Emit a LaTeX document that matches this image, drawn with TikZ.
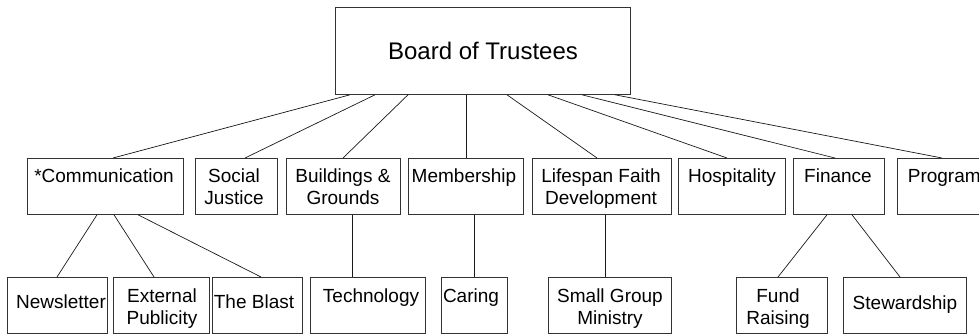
\documentclass[tikz,border=0pt]{standalone}
\usepackage{fontspec}
\setmainfont{Liberation Sans}
\begin{document}
\begin{tikzpicture}[x=1pt,y=-1pt,
  box/.style={draw=black!80, line width=0.8pt, inner sep=0pt, anchor=north west},
  lbl/.style={anchor=base, align=center, inner sep=0pt, font=\fontsize{19}{22}\selectfont},
  conn/.style={line width=0.7pt, draw=black!90}]
\useasboundingbox (0,0) rectangle (979,335);
% boxes
\node[box, minimum width=295pt, minimum height=87pt] (board) at (335,7) {};
\node[box, minimum width=156pt, minimum height=56pt] (comm) at (27,158) {};
\node[box, minimum width=82pt, minimum height=56pt] (soc) at (195,158) {};
\node[box, minimum width=114pt, minimum height=56pt] (build) at (286,158) {};
\node[box, minimum width=115pt, minimum height=56pt] (memb) at (408,158) {};
\node[box, minimum width=139pt, minimum height=56pt] (life) at (532,158) {};
\node[box, minimum width=107pt, minimum height=56pt] (hosp) at (678,158) {};
\node[box, minimum width=91pt, minimum height=56pt] (fin) at (793,158) {};
\node[box, minimum width=104pt, minimum height=56pt] (prog) at (897,158) {};
\node[box, minimum width=100pt, minimum height=56pt] (news) at (7,277) {};
\node[box, minimum width=96pt, minimum height=56pt] (ext) at (113,277) {};
\node[box, minimum width=90pt, minimum height=56pt] (blast) at (212,277) {};
\node[box, minimum width=115pt, minimum height=56pt] (tech) at (310,277) {};
\node[box, minimum width=66pt, minimum height=56pt] (caring) at (441,277) {};
\node[box, minimum width=123pt, minimum height=56pt] (small) at (548,277) {};
\node[box, minimum width=91pt, minimum height=56pt] (fund) at (736,277) {};
\node[box, minimum width=123pt, minimum height=56pt] (stew) at (843,277) {};
% texts (base anchor = baseline of last line)
\node[lbl, font=\fontsize{24}{28}\selectfont] (tboard) at (483,59) {Board of Trustees};
\node[lbl] (tcomm) at (104,182) {*Communication};
\node[lbl] (tsoc) at (234,204) {Social\\Justice};
\node[lbl] (tbuild) at (343,204) {Buildings \&\\Grounds};
\node[lbl] (tmemb) at (464,182) {Membership};
\node[lbl] (tlife) at (601,204) {Lifespan Faith\\Development};
\node[lbl] (thosp) at (732,182) {Hospitality};
\node[lbl] (tfin) at (838,182) {Finance};
\node[lbl] (tprog) at (949,182) {Program\hphantom{s}};
\node[lbl] (tnews) at (61,308) {Newsletter};
\node[lbl] (text) at (162,324) {External\\Publicity};
\node[lbl] (tblast) at (254,308) {The Blast};
\node[lbl] (ttech) at (371,302) {Technology};
\node[lbl] (tcaring) at (471,302) {Caring};
\node[lbl] (tsmall) at (610,324) {Small Group\\Ministry};
\node[lbl] (tfund) at (778,324) {Fund\\Raising};
\node[lbl] (tstew) at (905,309) {Stewardship};
% connectors board -> committees
\draw[conn] ([xshift=15pt]board.south west) -- ([xshift=86pt]comm.north west);
\draw[conn] ([xshift=40pt]board.south west) -- ([xshift=50pt]soc.north west);
\draw[conn] ([xshift=73pt]board.south west) -- ([xshift=57pt]build.north west);
\draw[conn] ([xshift=131pt]board.south west) -- ([xshift=58pt]memb.north west);
\draw[conn] ([xshift=172pt]board.south west) -- ([xshift=65pt]life.north west);
\draw[conn] ([xshift=213pt]board.south west) -- ([xshift=49pt]hosp.north west);
\draw[conn] ([xshift=247pt]board.south west) -- ([xshift=42pt]fin.north west);
\draw[conn] ([xshift=280pt]board.south west) -- ([xshift=45pt]prog.north west);
% committees -> sub-groups
\draw[conn] ([xshift=70pt]comm.south west) -- ([xshift=50pt]news.north west);
\draw[conn] ([xshift=87pt]comm.south west) -- ([xshift=41pt]ext.north west);
\draw[conn] ([xshift=111pt]comm.south west) -- ([xshift=49pt]blast.north west);
\draw[conn] ([xshift=66pt]build.south west) -- ([xshift=42pt]tech.north west);
\draw[conn] ([xshift=66pt]memb.south west) -- ([xshift=33pt]caring.north west);
\draw[conn] ([xshift=73pt]life.south west) -- ([xshift=57pt]small.north west);
\draw[conn] ([xshift=34pt]fin.south west) -- ([xshift=42pt]fund.north west);
\draw[conn] ([xshift=59pt]fin.south west) -- ([xshift=57pt]stew.north west);
\end{tikzpicture}
\end{document}
